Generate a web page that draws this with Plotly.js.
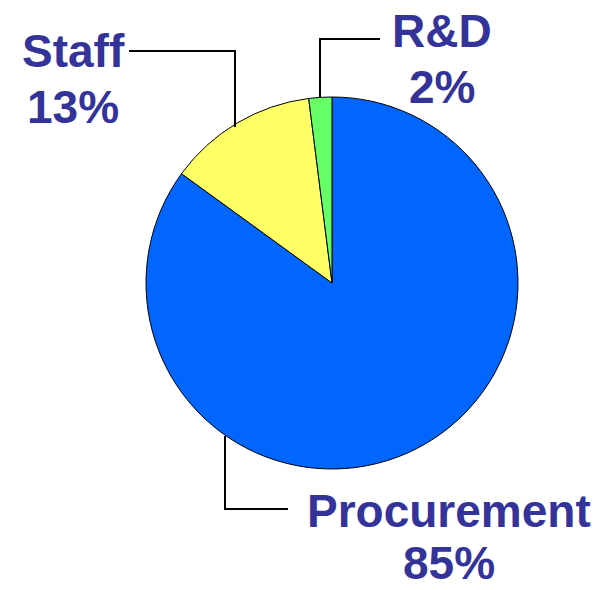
<!DOCTYPE html>
<html><head><meta charset="utf-8">
<script src="https://cdn.plot.ly/plotly-3.0.1.min.js"></script>
<style>html,body{margin:0;padding:0;background:#fff}#chart{width:603px;height:590px}</style>
</head><body><div id="chart"></div>
<script>
const categories = ["Procurement", "Staff", "R&D"];
const values = [85, 13, 2];
const colors = ["#0066FF", "#FFFF66", "#66FF66"];

const W = 603, H = 590;
const px = x => x / W, py = y => 1 - y / H;

// name-line centre and percent-line centre (pixels)
const labelPos = [
  {x: 449, y1: 511, y2: 568},
  {x: 73, y1: 51, y2: 107},
  {x: 442, y1: 31, y2: 87}
];

const font = {family: "Liberation Sans, Arial, sans-serif", size: 46, color: "#333399"};
const annotations = [];
categories.forEach((c, i) => {
  annotations.push({
    text: "<b>" + c + "</b>",
    x: px(labelPos[i].x), y: py(labelPos[i].y1),
    xref: "paper", yref: "paper", xanchor: "center", yanchor: "middle",
    showarrow: false, borderpad: 0, font: font
  });
  const last = i === 0;
  annotations.push({
    text: "<b>" + values[i] + "%</b>",
    x: px(labelPos[i].x), y: last ? 0 : py(labelPos[i].y2),
    xref: "paper", yref: "paper", xanchor: "center", yanchor: last ? "bottom" : "middle",
    showarrow: false, borderpad: 0, font: font
  });
});

function path(pts) {
  return pts.map((p, i) => (i ? "L" : "M") + px(p[0]) + "," + py(p[1])).join(" ");
}
const lineStyle = {color: "#000000", width: 2};
const shapes = [
  {type: "path", xref: "paper", yref: "paper", path: path([[225, 436], [225, 509], [288, 509]]), line: lineStyle},
  {type: "path", xref: "paper", yref: "paper", path: path([[129, 51], [235, 51], [235, 127]]), line: lineStyle},
  {type: "path", xref: "paper", yref: "paper", path: path([[380, 39], [320, 39], [320, 98]]), line: lineStyle}
];

Plotly.newPlot("chart", [{
  type: "pie",
  labels: categories,
  values: values,
  marker: {colors: colors, line: {color: "#000000", width: 1}},
  sort: false,
  direction: "clockwise",
  rotation: 0,
  textinfo: "none",
  hoverinfo: "label+percent",
  domain: {x: [px(146), px(518)], y: [py(469), py(97)]}
}], {
  width: W, height: H,
  margin: {l: 0, r: 0, t: 0, b: 0},
  showlegend: false,
  paper_bgcolor: "#ffffff",
  annotations: annotations,
  shapes: shapes
}, {displayModeBar: false, staticPlot: true});
</script></body></html>
